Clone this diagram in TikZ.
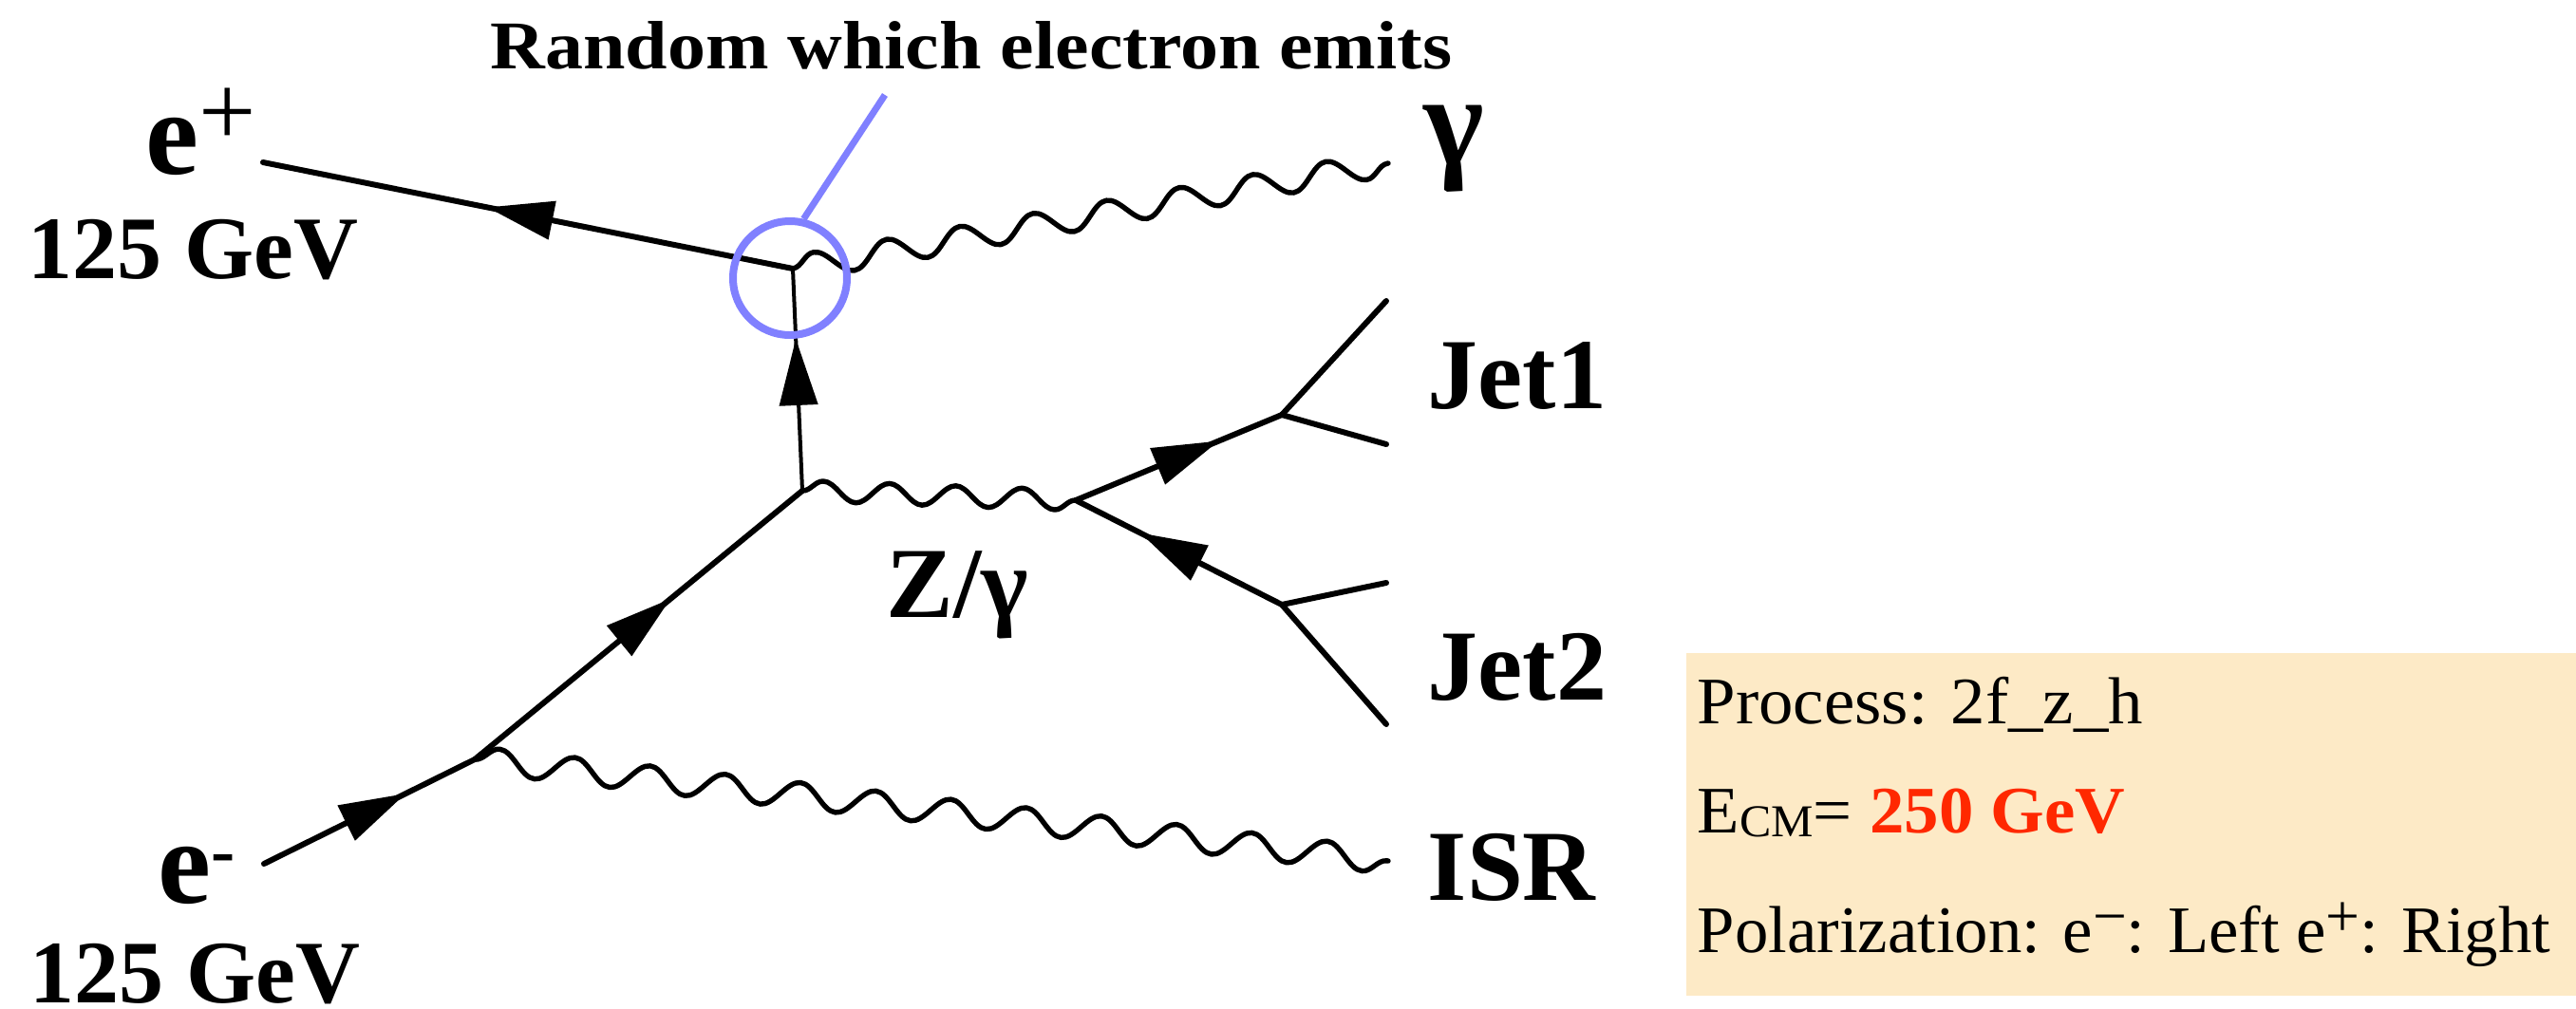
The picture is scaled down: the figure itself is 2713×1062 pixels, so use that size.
\documentclass[tikz,border=0pt]{standalone}
\usepackage{fontspec}
\setmainfont{Liberation Serif}
\usetikzlibrary{arrows.meta,decorations.pathmorphing,decorations.markings}
\definecolor{boxfill}{RGB}{253,234,198}
\definecolor{hilite}{RGB}{128,128,255}
\definecolor{ecm}{RGB}{255,40,0}
\newcommand{\supsc}[3]{\raisebox{#2}{\scalebox{#1}{#3}}}
\begin{document}
\begin{tikzpicture}[x=0.25pt,y=-0.25pt,
  fline/.style={line width=1.5pt, line cap=round, line join=round},
  vline/.style={line width=1pt},
  arrowat/.style={postaction={decorate},decoration={markings,mark=at position #1 with {\arrow{Triangle[length=17.5pt,width=10pt]}}}},
  boson/.style 2 args={decorate, decoration={snake, amplitude=#2, segment length=#1}, line width=1.35pt, line join=round, line cap=round},
  biglbl/.style={font=\bfseries\fontsize{26.5pt}{30pt}\selectfont, inner sep=0pt, anchor=base west},
  elbl/.style={font=\bfseries\fontsize{31.5pt}{34pt}\selectfont, inner sep=0pt, anchor=base west},
  gevlbl/.style={font=\bfseries\fontsize{23.5pt}{26pt}\selectfont, inner sep=0pt, anchor=base west},
  boxtxt/.style={inner sep=0pt, anchor=base west, font=\fontsize{17.5pt}{20pt}\selectfont}
]
\useasboundingbox (0,0) rectangle (2713,1062);

% vertices
\coordinate (V1) at (835,283);
\coordinate (V2) at (845,517);
\coordinate (V3) at (500,800);
\coordinate (V4) at (1133,527);
\coordinate (J1) at (1350,437);
\coordinate (J2) at (1350,637);
\coordinate (epEnd) at (277,171);
\coordinate (emEnd) at (278,910);
\coordinate (gEnd) at (1462,172);
\coordinate (isrEnd) at (1462,907);
\coordinate (j1a) at (1460,317);
\coordinate (j1b) at (1460,468);
\coordinate (j2a) at (1460,614);
\coordinate (j2b) at (1460,763);
\coordinate (callout) at (932,100);

% info box
\fill[boxfill] (1776,688) rectangle (2713,1049);

% fermion lines
\draw[fline, arrowat=0.577] (V1) -- (epEnd);
\draw[vline, arrowat=0.684] (V2) -- (V1);
\draw[fline, arrowat=0.673] (emEnd) -- (V3);
\draw[fline, arrowat=0.60] (V3) -- (V2);
\draw[fline, arrowat=0.695] (V4) -- (J1);
\draw[fline, arrowat=0.687] (J2) -- (V4);
\draw[fline] (J1) -- (j1a);
\draw[fline] (J1) -- (j1b);
\draw[fline] (J2) -- (j2a);
\draw[fline] (J2) -- (j2b);

% bosons
\draw[boson={19.57pt}{3.3pt}] (V1) -- (gEnd);
\draw[boson={17.45pt}{2.7pt}] (V2) -- (V4);
\draw[boson={19.93pt}{3.4pt}] (V3) -- (isrEnd);

% highlight
\node[draw=hilite, line width=2pt, circle, minimum size=30pt, inner sep=0pt] (emit) at (832,293) {};
\draw[hilite, line width=1.75pt] (emit.77) -- (callout);

% labels
\node[anchor=base, inner sep=0pt] (title) at (1023,72) {\scalebox{1.11}[1]{\bfseries\fontsize{18pt}{20pt}\selectfont Random which electron emits}};
\node[elbl] (eplus) at (153,183) {e\supsc{0.85}{7.3pt}{\mdseries +}};
\node[gevlbl] (epE) at (29,293) {125 GeV};
\node[elbl] (eminus) at (166,951) {e\supsc{0.6}{7.5pt}{-}};
\node[gevlbl] (emE) at (31,1056) {125 GeV};
\node[inner sep=0pt, anchor=base west, font=\bfseries\fontsize{34pt}{38pt}\selectfont] (gam) at (1499,173) {γ};
\node[biglbl] (jet1) at (1503,430) {Jet1};
\node[biglbl] (jet2) at (1503,737) {Jet2};
\node[biglbl] (isr) at (1503,948) {ISR};
\node[biglbl] (zg) at (933,650) {Z/γ};

\node[boxtxt] (proc) at (1787,762) {\scalebox{1.04}[1]{Process: 2f\_z\_h}};
\node[boxtxt] (ecmline) at (1787,877) {\scalebox{1.04}[1]{E{\fontsize{12pt}{12pt}\selectfont\raisebox{-1.2pt}{CM}}= \textcolor{ecm}{\bfseries 250 GeV}}};
\node[boxtxt] (pol) at (1787,1003) {\scalebox{1.01}[1]{Polarization: e\supsc{0.9}{4.25pt}{−}: Left e\supsc{0.9}{4.25pt}{+}: Right}};
\end{tikzpicture}
\end{document}
